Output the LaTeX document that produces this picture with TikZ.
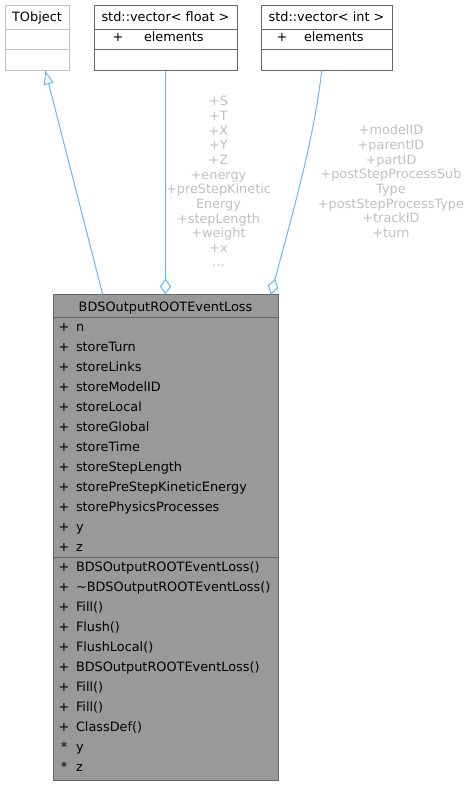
\documentclass[tikz,border=0pt]{standalone}
\usepackage{fontspec}
\setmainfont{DejaVu Sans}
\usetikzlibrary{arrows.meta}
\definecolor{edgeblue}{HTML}{63B8FF}
\definecolor{lblgrey}{HTML}{C0C0C0}
\definecolor{boxborder}{HTML}{666666}
\definecolor{mainfill}{HTML}{999999}
\definecolor{lightborder}{HTML}{BFBFBF}
\begin{document}
\begin{tikzpicture}[x=1bp,y=-1bp,
  every node/.style={font=\fontsize{12.9}{14.65}\selectfont, inner sep=0pt, outer sep=0pt},
  classbox/.style={draw=boxborder, line width=1bp, fill=white, anchor=north west, minimum height=65bp},
  sepline/.style={draw=boxborder, line width=1bp},
  txt/.style={anchor=base west},
  vismark/.style={anchor=base},
  lbl/.style={anchor=base, text=lblgrey},
  edge/.style={draw=edgeblue, line width=1bp},
]
\useasboundingbox (0,0) rectangle (472,785);

% top boxes
\node[classbox, draw=lightborder, minimum width=64bp] (tobj) at (5.5,5.5) {};
\draw[draw=lightborder, line width=1bp] (5.5,29.5) -- (69.5,29.5) (5.5,49.5) -- (69.5,49.5);
\node[anchor=base] (tobjt) at (37,22) {TObject};

\node[classbox, minimum width=143bp] (vf) at (94.5,5.5) {};
\draw[sepline] (94.5,29.5) -- (237.5,29.5) (94.5,49.5) -- (237.5,49.5);
\node[anchor=base] (vft) at (165.5,22) {std::vector< float >};
\node[vismark] (vfp) at (118,42) {+};
\node[txt] (vfe) at (144,42) {elements};

\node[classbox, minimum width=131bp] (vi) at (261.5,5.5) {};
\draw[sepline] (261.5,29.5) -- (392.5,29.5) (261.5,49.5) -- (392.5,49.5);
\node[anchor=base] (vit) at (326.5,22) {std::vector< int >};
\node[vismark] (vip) at (282,42) {+};
\node[txt] (vie) at (304,42) {elements};

% main box
\node[classbox, fill=mainfill, minimum width=225bp, minimum height=486bp] (main) at (53.5,294.5) {};
\draw[sepline] (53.5,317.5) -- (278.5,317.5) (53.5,557.5) -- (278.5,557.5);
\node[anchor=base] (maint) at (165.5,311) {BDSOutputROOTEventLoss};
\foreach \t [count=\i from 0] in {n,storeTurn,storeLinks,storeModelID,storeLocal,storeGlobal,storeTime,storeStepLength,storePreStepKineticEnergy,storePhysicsProcesses,y,z}{
  \node[vismark] (ap\i) at (64,{331+20*\i}) {+};
  \node[txt] (a\i) at (76,{331+20*\i}) {\t};
}
\foreach \t/\m [count=\i from 0] in {BDSOutputROOTEventLoss()/+,\textasciitilde BDSOutputROOTEventLoss()/+,Fill()/+,Flush()/+,FlushLocal()/+,BDSOutputROOTEventLoss()/+,Fill()/+,Fill()/+,ClassDef()/+,y/*,z/*}{
  \node[vismark] (mp\i) at (64,{571+20*\i}) {\m};
  \node[txt] (m\i) at (76,{571+20*\i}) {\t};
}

% edge labels
\foreach \t [count=\i from 0] in {+S,+T,+X,+Y,+Z,+energy,+preStepKinetic,Energy,+stepLength,+weight,+x,\ldots}{
  \node[lbl] (fl\i) at (218.5,{105.8+14.65*\i}) {\t};
}
\foreach \t [count=\i from 0] in {+modelID,+parentID,+partID,+postStepProcessSub,Type,+postStepProcessType,+trackID,+turn}{
  \node[lbl] (il\i) at (391,{134.8+14.65*\i}) {\t};
}

% connectors
\draw[edge, -{Triangle[length=14bp,width=10bp,fill=white]}]
  ([xshift=49.2bp]main.north west) -- ([xshift=39.8bp]tobj.south west);
\draw[edge, {Diamond[length=16bp,width=11bp,fill=white]}-]
  ([xshift=112bp]main.north west) -- ([xshift=71bp]vf.south west);
\draw[edge, {Diamond[length=16bp,width=11bp,fill=white]}-]
  ([xshift=217.5bp]main.north west) .. controls (292,215) and (314,140) .. ([xshift=60.2bp]vi.south west);
\end{tikzpicture}
\end{document}
